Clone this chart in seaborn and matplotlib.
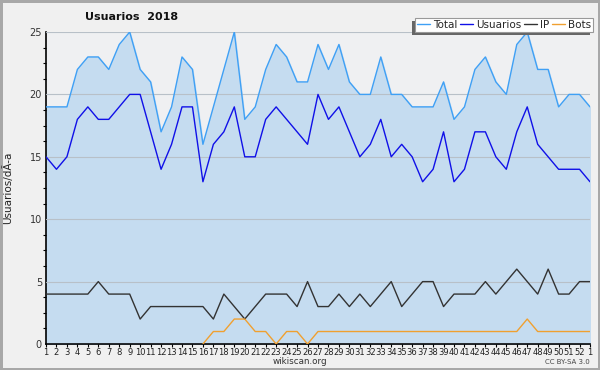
import numpy as np
import pandas as pd
import matplotlib
matplotlib.use('Agg')
import matplotlib.pyplot as plt
import seaborn as sns
from matplotlib.patches import Rectangle
from matplotlib.transforms import IdentityTransform
from matplotlib.ticker import MultipleLocator

# --- données ---
semanas = list(range(1, 53)) + [1]
total = [19, 19, 19, 22, 23, 23, 22, 24, 25, 22, 21, 17, 19, 23, 22, 16, 19, 22, 25, 18,
         19, 22, 24, 23, 21, 21, 24, 22, 24, 21, 20, 20, 23, 20, 20, 19, 19, 19, 21, 18,
         19, 22, 23, 21, 20, 24, 25, 22, 22, 19, 20, 20, 19]
usuarios = [15, 14, 15, 18, 19, 18, 18, 19, 20, 20, 17, 14, 16, 19, 19, 13, 16, 17, 19, 15,
            15, 18, 19, 18, 17, 16, 20, 18, 19, 17, 15, 16, 18, 15, 16, 15, 13, 14, 17, 13,
            14, 17, 17, 15, 14, 17, 19, 16, 15, 14, 14, 14, 13]
ip = [4, 4, 4, 4, 4, 5, 4, 4, 4, 2, 3, 3, 3, 3, 3, 3, 2, 4, 3, 2,
      3, 4, 4, 4, 3, 5, 3, 3, 4, 3, 4, 3, 4, 5, 3, 4, 5, 5, 3, 4,
      4, 4, 5, 4, 5, 6, 5, 4, 6, 4, 4, 5, 5]
bots = [np.nan] * 15 + [0, 1, 1, 2, 2, 1, 1, 0, 1, 1, 0] + [1] * 20 + [2] + [1] * 6

x = np.arange(1, len(total) + 1)
df = pd.DataFrame({'x': x, 'Total': total, 'Usuarios': usuarios, 'IP': ip, 'Bots': bots})

colores = {'Total': '#3fa0f5', 'Usuarios': '#1010e8', 'IP': '#333333', 'Bots': '#f0a030'}

# --- figure ---
sns.set_style('white')
plt.rcParams['font.family'] = ['DejaVu Sans']

fig = plt.figure(figsize=(6, 3.7), dpi=100)
fig.patch.set_facecolor('#f0f0f0')
fig.patch.set_edgecolor('#a8a8a8')
fig.patch.set_linewidth(2.5)
ax = fig.add_axes([46 / 600, 26 / 370, 544 / 600, 312 / 370])
ax.set_facecolor('#eff0f2')

ax.fill_between(df['x'], df['Total'], color='#c5dcf0', zorder=1)
for serie in ['Total', 'Usuarios', 'IP', 'Bots']:
    sns.lineplot(data=df, x='x', y=serie, ax=ax, color=colores[serie], lw=1,
                 label=serie, zorder=3, legend=False)

ax.set_xlim(1, len(total))
ax.set_ylim(0, 25)
ax.set_xticks(x)
ax.set_xticklabels(semanas, fontsize=6, color='#222222')
ax.yaxis.set_major_locator(MultipleLocator(5))
ax.yaxis.set_minor_locator(MultipleLocator(1.25))
ax.tick_params(axis='y', which='major', length=7.2, color='#c0c0c0', labelsize=7,
               labelcolor='#333333', pad=-4.3)
ax.tick_params(axis='y', which='minor', left=True, length=2.5, color='black', width=0.8)
ax.tick_params(axis='x', which='major', bottom=True, length=2.5, color='black', pad=0.5)
ax.grid(axis='y', color='#b8c0c8', lw=0.8, zorder=2)
ax.set_axisbelow(False)
for s in ['top', 'right']:
    ax.spines[s].set_visible(False)
ax.spines['left'].set_color('black')
ax.spines['bottom'].set_color('black')
ax.spines['left'].set_linewidth(1.2)
ax.spines['bottom'].set_linewidth(1.2)

ax.set_xlabel('')
ax.set_ylabel('Usuarios/dÃ-a', fontsize=7.5, color='#222222')
ax.yaxis.set_label_coords(-33 / 544, 0.5)

fig.text(85 / 600, 1 - 17.5 / 370, 'Usuarios  2018', fontsize=8, fontweight='bold',
         ha='left', va='center', color='#111111')
fig.text(0.5, 1 - 362 / 370, 'wikiscan.org', fontsize=6.3, ha='center', va='center',
         color='#333333')
fig.text(590 / 600, 1 - 362 / 370, 'CC BY-SA 3.0', fontsize=5, ha='right', va='center',
         color='#444444')

# légende avec ombre décalée vers la gauche
handles, labels = ax.get_legend_handles_labels()
leg = fig.legend(handles, labels, ncol=4, loc='lower right',
                 bbox_to_anchor=(593 / 600, 1 - 32 / 370), fontsize=7.5,
                 handlelength=1.2, handletextpad=0.3, columnspacing=0.3,
                 borderpad=0.2, borderaxespad=0, fancybox=False, framealpha=1,
                 edgecolor='#999999')
leg.get_frame().set_linewidth(0.8)

fig.canvas.draw()
bb = leg.get_window_extent()
fig.add_artist(Rectangle((bb.x0 - 3, bb.y0 - 3), bb.width, bb.height,
                         transform=IdentityTransform(), facecolor='#666666',
                         edgecolor='none', zorder=4))

fig.savefig('out.png', dpi=100, facecolor=fig.get_facecolor(), edgecolor=fig.patch.get_edgecolor())
